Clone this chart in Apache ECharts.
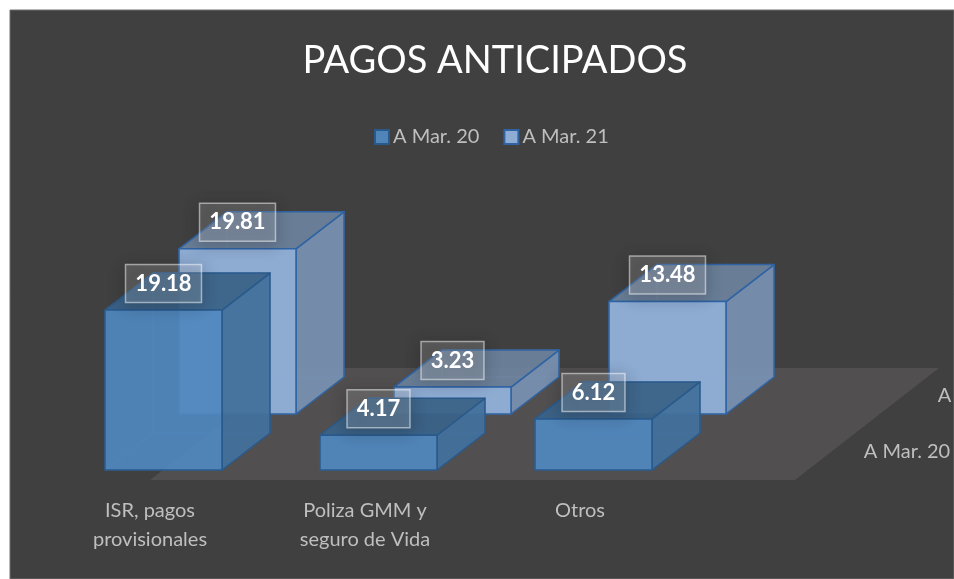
<!DOCTYPE html>
<html><head><meta charset="utf-8">
<style>html,body{margin:0;padding:0;background:#fff}#c{width:954px;height:579px}</style>
<script src="https://cdn.jsdelivr.net/npm/echarts@6/dist/echarts.min.js"></script>
</head><body><div id="c"></div>
<script>
var categories = ['ISR, pagos\nprovisionales', 'Poliza GMM y\nseguro de Vida', 'Otros'];
var seriesNames = ['A Mar. 20', 'A Mar. 21'];
var valuesMar20 = [19.18, 4.17, 6.12];
var valuesMar21 = [19.81, 3.23, 13.48];

var FONT = 'Lato, "Open Sans", sans-serif';
var PANEL = {l: 10, t: 10, r: 954, b: 579};
var BAR_W = 117, BAR_SHIFT = -45;      // front face relative to the category centre
var DEPTH = {x: 48, y: -37};           // one box's depth projection
var ROW = {x: 74, y: -56};             // shift of the back row
var FLOOR_FRONT = 10, FLOOR_BACK = {x: 144, y: -112};

var PALETTE = [
  {front:'rgba(80,135,190,0.90)', side:'rgba(66,112,155,0.92)', top:'rgba(58,98,135,0.92)',
   back:'rgba(80,135,190,0.30)', stroke:'#2a5a8c', inner:'rgba(70,125,180,0.45)', edge:'#234a70'},
  {front:'rgba(143,172,212,0.98)', side:'rgba(118,143,175,0.92)', top:'rgba(108,130,158,0.85)',
   back:'rgba(143,172,212,0.30)', stroke:'#2f63a3', inner:'rgba(143,172,212,0.35)', edge:'#2f63a3'}
];

function poly(pts, fill, stroke, lw) {
  return {type:'polygon', shape:{points:pts}, style:{fill:fill, stroke:stroke||'none', lineWidth:lw||0, lineJoin:'round'}, silent:true};
}

function boxRenderer(row) {
  return function (params, api) {
    var c = PALETTE[row];
    var base = api.coord([api.value(0), 0]);
    var topC = api.coord([api.value(0), api.value(1)]);
    var x0 = base[0] + BAR_SHIFT + row * ROW.x, x1 = x0 + BAR_W;
    var yb = base[1] + row * ROW.y, yt = topC[1] + row * ROW.y;
    var dx = DEPTH.x, dy = DEPTH.y;
    var cx = (x0 + x1) / 2, ly = yt - 26.5;
    var val = api.value(1).toFixed(2);
    var w = val.length > 4 ? 76 : 63, h = 38;
    return {type:'group', children:[
      poly([[x0+dx,yb+dy],[x1+dx,yb+dy],[x1+dx,yt+dy],[x0+dx,yt+dy]], c.back, c.inner, 1),
      poly([[x0,yb],[x0+dx,yb+dy],[x0+dx,yt+dy],[x0,yt]], c.back, c.inner, 1),
      poly([[x0,yb],[x1,yb],[x1+dx,yb+dy],[x0+dx,yb+dy]], c.back, c.inner, 1),
      poly([[x1,yb],[x1+dx,yb+dy],[x1+dx,yt+dy],[x1,yt]], c.side, c.stroke, 1.5),
      poly([[x0,yt],[x1,yt],[x1+dx,yt+dy],[x0+dx,yt+dy]], c.top, c.stroke, 1.5),
      poly([[x0,yb],[x1,yb],[x1,yt],[x0,yt]], c.front, c.stroke, 1.5),
      {type:'rect', shape:{x:cx-w/2, y:ly-h/2, width:w, height:h}, silent:true,
       style:{fill:'rgba(255,255,255,0.16)', stroke:'rgba(255,255,255,0.5)', lineWidth:1.5,
              shadowBlur:16, shadowColor:'rgba(0,0,0,0.9)', shadowOffsetY:3}},
      {type:'text', x:cx, y:ly, silent:true,
       style:{text:val, fill:'#fff', font:'bold 22px '+FONT, align:'center', verticalAlign:'middle'}}
    ]};
  };
}

function floorRenderer(params, api) {
  var a = api.coord([-0.5, 0]), b = api.coord([2.5, 0]);
  var y = a[1] + FLOOR_FRONT;
  var bs = api.size([1, 0]);
  return poly([[a[0],y],[b[0],y],[b[0]+FLOOR_BACK.x,y+FLOOR_BACK.y],[a[0]+FLOOR_BACK.x,y+FLOOR_BACK.y]], '#514f50');
}

function depthLabelRenderer(params, api) {
  var row = params.dataIndex;
  var p = api.coord([2.5, 0]);
  return {type:'text', x:p[0] + 112 + row * ROW.x, y:p[1] - 18 + row * ROW.y, silent:true,
    style:{text:seriesNames[row], fill:'#bfbfbf', font:'20px '+FONT, align:'center', verticalAlign:'middle'}};
}

var chart = echarts.init(document.getElementById('c'), null, {renderer:'canvas'});
chart.setOption({
  animation:false,
  backgroundColor:'#fff',
  graphic:[{type:'rect', z:-10, silent:true, shape:{x:PANEL.l,y:PANEL.t,width:PANEL.r-PANEL.l,height:PANEL.b-PANEL.t},
    style:{fill:'#404040', stroke:'#6f6f6f', lineWidth:1}}],
  title:{text:'PAGOS ANTICIPADOS', left:490, top:37, textAlign:'center',
    textStyle:{color:'#fff', fontFamily:FONT, fontWeight:'normal', fontSize:38}},
  legend:{left:369, top:122, itemWidth:14, itemHeight:14, itemGap:24, data:seriesNames, icon:'rect',
    textStyle:{color:'#bfbfbf', fontFamily:FONT, fontSize:20, padding:[0,0,0,-1]}},
  grid:{left:42.5, width:645, top:303.2, height:166.8},
  xAxis:{type:'category', data:categories, axisLine:{show:false}, axisTick:{show:false},
    axisLabel:{color:'#bfbfbf', fontFamily:FONT, fontSize:20, lineHeight:29, margin:26, interval:0}},
  yAxis:{type:'value', min:0, max:20, show:false},
  series:[
    {type:'custom', name:'floor', coordinateSystem:'cartesian2d', renderItem:floorRenderer, data:[[0,0]], z:1, clip:false, silent:true, tooltip:{show:false}},
    {type:'custom', name:'labels', coordinateSystem:'cartesian2d', renderItem:depthLabelRenderer, data:[[0,0],[0,0]], z:1, clip:false, silent:true},
    {type:'custom', name:seriesNames[1], coordinateSystem:'cartesian2d', renderItem:boxRenderer(1),
     data:valuesMar21.map(function(v,i){return [i,v];}), z:2, clip:false,
     encode:{x:0,y:1}, itemStyle:{color:'#8facd4', borderColor:'#2f63a3', borderWidth:1.5}},
    {type:'custom', name:seriesNames[0], coordinateSystem:'cartesian2d', renderItem:boxRenderer(0),
     data:valuesMar20.map(function(v,i){return [i,v];}), z:3, clip:false,
     encode:{x:0,y:1}, itemStyle:{color:'#4f85b8', borderColor:'#2a5a8c', borderWidth:1.5}}
  ]
});
</script></body></html>
